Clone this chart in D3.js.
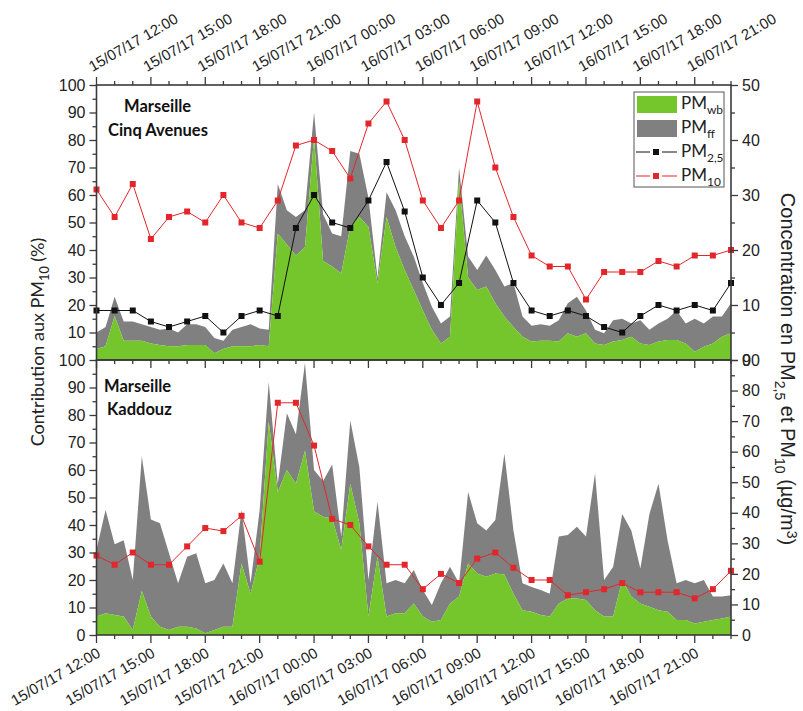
<!DOCTYPE html>
<html><head><meta charset="utf-8">
<script src="https://cdn.jsdelivr.net/npm/d3@7"></script>
<style>body{margin:0;background:#fff} svg{display:block}</style>
</head><body><svg id="c" width="803" height="711"></svg>
<script>
// ---------- DATA ----------
const timeTickLabels = ["15/07/17 12:00","15/07/17 15:00","15/07/17 18:00","15/07/17 21:00",
  "16/07/17 00:00","16/07/17 03:00","16/07/17 06:00","16/07/17 09:00",
  "16/07/17 12:00","16/07/17 15:00","16/07/17 18:00","16/07/17 21:00"];
const startLabel = "15/07/17 12:00";
const endLabel = "16/07/17 23:00";

// hourly concentrations (µg/m3), 15/07 12:00 -> 16/07 23:00
const pm10Cinq = [31,26,32,22,26,27,25,30,25,24,29,39,40,38,33,43,47,40,29,24,29,47,35,26,19,17,17,11,16,16,16,18,17,19,19,20];
const pm25Cinq = [9,9,9,7,6,7,8,5,8,9,8,24,30,25,24,29,36,27,15,10,14,29,25,14,9,8,9,8,6,5,8,10,9,10,9,14];
const pm10Kaddouz = [26,23,27,23,23,29,35,34,39,24,76,76,62,38,36,29,23,23,15,20,17,25,27,22,18,18,13,14,15,17,14,14,14,12,15,21];

// half-hourly contributions to PM10 (%), 15/07 12:00 -> 16/07 23:00
const wbCinq = [4,5,16,7,7,7,6,5.5,5,5,5.5,5.5,5.5,2.5,4,5,5,5,5.5,5,46,42,38,41,81,36,34,31.5,48.5,52,48.5,28,52,41,32.7,25.5,18,11,6,8.5,65,30,25.5,26.7,20.6,15.8,12,8.5,6.7,7,7,6.7,9.7,8.5,9.7,6,5.5,6.7,7.3,8.5,6,5.5,6.7,7.3,7.3,6,3,4.8,6,8.5,9.7];
const ffCinq = [6,7,7,7,7,6,6,5.5,6.5,5,7.5,7.5,6.5,5.5,3,6,7,8,6,6,18,12.5,14,13.5,9,17,12,13.5,27.5,23,10.5,2,9,13.5,12.3,12.1,10,8.4,7.3,7.3,5,7.6,7.2,11.3,12.1,10.9,16,7.3,5.8,6,5.5,7.8,10.9,14.5,8.3,5,4.2,7.8,7.7,4.8,8.5,5.5,6.6,7.7,10.7,7.3,12,8.5,9.8,7.3,10.9];
const wbKaddouz = [6.7,7.9,7.3,6.7,1.8,16,6.7,3,1.8,3,3,2.4,0.6,1.8,3,3,26,15,28.5,77.6,52,60,55,67,45,43,42.4,31,55,40.6,6.7,28.5,6.7,7.9,7.9,11.5,6.7,4.8,5.5,11.5,14,26,22.4,21.2,22.4,22,15,9,8.5,7.3,6.7,11.5,13.3,13.3,12.7,9,6.7,6.7,20,14,11.5,10.3,9,8.5,5.5,5.5,4.2,4.8,5.5,6,6.7];
const ffKaddouz = [24.3,37.6,25.7,27.8,18.2,49,35.3,37.6,27.9,15.8,25.5,27.3,18.2,18.2,23,15.8,19.5,3.8,17,14.4,3,20.6,18,32,15,13,19.6,4.8,23,20.4,13.3,20,12.1,12.1,10.9,12.1,9.7,6.1,13.3,13.3,4.8,26,18.2,16.8,19.4,44,23,9.8,9,9.1,8.3,24.3,23.1,26.1,23.1,49.8,13.3,18.1,24,24,12.7,33.7,46,26,13.3,14.5,14.6,15.2,8.5,8,7.8];

const siteNames = [["Marseille","Cinq Avenues"],["Marseille","Kaddouz"]];
const leftTicksTop = [10,20,30,40,50,60,70,80,90,100];
const leftTicksBot = [0,10,20,30,40,50,60,70,80,90,100];
const rightTicksTop = [0,10,20,30,40,50];
const rightTicksBot = [0,10,20,30,40,50,60,70,80,90];

// ---------- STYLE ----------
const GREEN = "#74c62c", GREY = "#808080", RED = "#e3262b", BLACK = "#111";
const AXC = "#3a3a3a";
const TICKFONT = "'Liberation Sans', Arial, sans-serif";
const CALFONT = "Lato, 'Open Sans', sans-serif";

const svg = d3.select("#c");
const parse = d3.timeParse("%d/%m/%y %H:%M");
const START = parse(startLabel), END = parse(endLabel);
const tickDates = timeTickLabels.map(parse);

const x = d3.scaleTime().domain([START, END]).range([96.5, 731]);
const panels = [
  {y0: 85, y1: 360, yL: d3.scaleLinear([0,100],[360,85]), yR: d3.scaleLinear([0,50],[360,85]),
   lTicks: leftTicksTop, rTicks: rightTicksTop, rMax: 50, wb: wbCinq, ff: ffCinq,
   lines: [{v: pm25Cinq, c: BLACK}, {v: pm10Cinq, c: RED}], name: siteNames[0]},
  {y0: 360, y1: 635, yL: d3.scaleLinear([0,100],[635,360]), yR: d3.scaleLinear([0,90],[635,360]),
   lTicks: leftTicksBot, rTicks: rightTicksBot, rMax: 90, wb: wbKaddouz, ff: ffKaddouz,
   lines: [{v: pm10Kaddouz, c: RED}], name: siteNames[1]}
];

const halfT = i => d3.timeMinute.offset(START, 30 * i);
const hourT = i => d3.timeHour.offset(START, i);

panels.forEach((p, pi) => {
  const g = svg.append("g");
  const rows = p.wb.map((w, i) => ({t: halfT(i), wb: w, tot: w + p.ff[i]}));
  g.append("path").datum(rows)
    .attr("fill", GREY)
    .attr("d", d3.area().x(d => x(d.t)).y0(d => p.yL(d.wb)).y1(d => p.yL(d.tot)));
  g.append("path").datum(rows)
    .attr("fill", GREEN)
    .attr("d", d3.area().x(d => x(d.t)).y0(p.yL(0)).y1(d => p.yL(d.wb)));

  p.lines.forEach(L => {
    const pts = L.v.map((v, i) => ({t: hourT(i), v}));
    g.append("path").datum(pts).attr("fill", "none").attr("stroke", L.c).attr("stroke-width", 1)
      .attr("d", d3.line().x(d => x(d.t)).y(d => p.yR(d.v)));
    g.selectAll(null).data(pts).join("rect")
      .attr("x", d => x(d.t) - 3).attr("y", d => p.yR(d.v) - 3)
      .attr("width", 6).attr("height", 6).attr("fill", L.c);
  });

  const nm = g.append("text").attr("font-family", CALFONT).attr("font-weight", "bold").attr("font-size", 16.5).attr("fill", "#111");
  if (pi === 0) {
    nm.append("tspan").attr("x", 124).attr("y", 112).text(p.name[0]);
    nm.append("tspan").attr("x", 108).attr("y", 136).text(p.name[1]);
  } else {
    nm.append("tspan").attr("x", 104).attr("y", 392).text(p.name[0]);
    nm.append("tspan").attr("x", 107).attr("y", 415).text(p.name[1]);
  }

  const gl = g.append("g").attr("transform", "translate(96.5,0)");
  gl.call(d3.axisLeft(p.yL).tickValues(p.lTicks).tickSize(7).tickPadding(4));
  gl.append("g").call(d3.axisLeft(p.yL).tickValues(d3.range(5, 100, 10)).tickSize(4).tickFormat(""));
  const gr = g.append("g").attr("transform", "translate(731,0)");
  gr.call(d3.axisRight(p.yR).tickValues(p.rTicks).tickSize(7).tickPadding(4));
  gr.append("g").call(d3.axisRight(p.yR).tickValues(d3.range(5, p.rMax, 10)).tickSize(4).tickFormat(""));
  [gl, gr].forEach(a => {
    a.selectAll(".domain").remove();
    a.selectAll("line").attr("stroke", AXC).attr("stroke-width", 1.3);
    a.selectAll("text").attr("font-family", TICKFONT).attr("font-size", 16).attr("fill", "#222");
  });
});

// x ticks
const hours = d3.timeHour.range(START, d3.timeHour.offset(END, 1));
function xTicks(y, dir) {
  svg.append("g").selectAll(null).data(hours).join("line")
    .attr("x1", d => x(d)).attr("x2", d => x(d))
    .attr("y1", y).attr("y2", d => y + dir * ((d.getHours() % 3 === 0) ? 8 : 4))
    .attr("stroke", AXC).attr("stroke-width", 1.3);
}
xTicks(85, -1);
xTicks(360, 1);
xTicks(635, 1);

// frames
panels.forEach(p => {
  svg.append("rect").attr("x", 96.5).attr("y", p.y0).attr("width", 731 - 96.5).attr("height", p.y1 - p.y0)
    .attr("fill", "none").attr("stroke", AXC).attr("stroke-width", 1.6);
});

// x tick labels
svg.append("g").selectAll("text").data(timeTickLabels).join("text")
  .attr("transform", (d, i) => `translate(${x(tickDates[i]) - 4},72) rotate(-30)`)
  .attr("text-anchor", "start").attr("font-family", TICKFONT).attr("font-size", 15).attr("fill", "#222")
  .text(d => d);
svg.append("g").selectAll("text").data(timeTickLabels).join("text")
  .attr("transform", (d, i) => `translate(${x(tickDates[i]) + 5},656) rotate(-30)`)
  .attr("text-anchor", "end").attr("font-family", TICKFONT).attr("font-size", 15).attr("fill", "#222")
  .text(d => d);

function rich(sel, parts, base) {
  parts.forEach(pt => {
    const ts = sel.append("tspan").text(pt.t);
    if (pt.s === "sub") ts.attr("font-size", base * 0.7).attr("dy", base * 0.3);
    else if (pt.s === "sup") ts.attr("font-size", base * 0.7).attr("dy", -base * 0.3);
    if (pt.back) ts.attr("dy", pt.back);
  });
}
const lt = svg.append("text").attr("transform", "translate(44,342) rotate(-90)")
  .attr("text-anchor", "middle").attr("font-family", CALFONT).attr("font-size", 18).attr("fill", "#222");
rich(lt, [{t: "Contribution aux PM"}, {t: "10", s: "sub"}, {t: " (%)", back: -18 * 0.3}], 18);

const RT = 20;
const rt = svg.append("text").attr("transform", "translate(781,369) rotate(90)")
  .attr("text-anchor", "middle").attr("font-family", TICKFONT).attr("font-size", RT).attr("fill", "#222");
rich(rt, [{t: "Concentration en PM"}, {t: "2,5", s: "sub"}, {t: " et PM", back: -RT * 0.3},
  {t: "10", s: "sub"}, {t: " (µg/m", back: -RT * 0.3}, {t: "3", s: "sup"}, {t: ")", back: RT * 0.3}], RT);

// legend
const legendItems = [
  {type: "area", c: GREEN, sub: "wb"},
  {type: "area", c: GREY, sub: "ff"},
  {type: "line", c: BLACK, sub: "2,5"},
  {type: "line", c: RED, sub: "10"}
];
const lg = svg.append("g");
lg.append("rect").attr("x", 634).attr("y", 92).attr("width", 90).attr("height", 95)
  .attr("fill", "#fff").attr("stroke", "#555").attr("stroke-width", 1);
legendItems.forEach((it, i) => {
  const cy = 104 + i * 24;
  if (it.type === "area") {
    lg.append("rect").attr("x", 637).attr("y", cy - 8).attr("width", 40).attr("height", 17).attr("fill", it.c);
  } else {
    lg.append("line").attr("x1", 636).attr("x2", 650).attr("y1", cy).attr("y2", cy).attr("stroke", it.c);
    lg.append("line").attr("x1", 662).attr("x2", 677).attr("y1", cy).attr("y2", cy).attr("stroke", it.c);
    lg.append("rect").attr("x", 653).attr("y", cy - 3).attr("width", 6).attr("height", 6).attr("fill", it.c);
  }
  const t = lg.append("text").attr("x", 681).attr("y", cy + 5).attr("font-family", CALFONT).attr("font-size", 17).attr("fill", "#222");
  rich(t, [{t: "PM"}, {t: it.sub, s: "sub"}], 17);
});
</script></body></html>
